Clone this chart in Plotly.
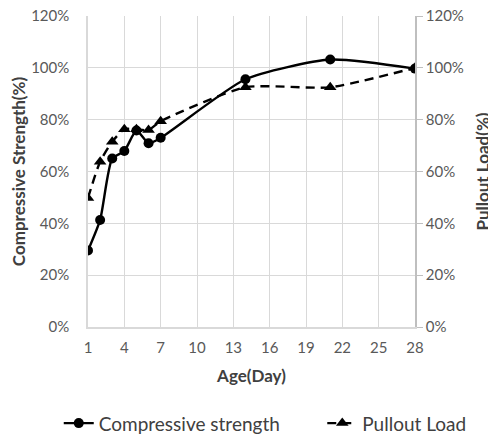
import plotly.graph_objects as go

age_days = [1, 2, 3, 4, 5, 6, 7, 14, 21, 28]
compressive_strength = [29.5, 41.3, 65.0, 67.9, 75.8, 70.9, 73.0, 95.6, 103.2, 99.7]
pullout_load = [49.8, 63.8, 71.5, 76.3, 76.3, 76.0, 79.4, 92.5, 92.5, 100.0]
x_ticks = [1, 4, 7, 10, 13, 16, 19, 22, 25, 28]
y_ticks = [0, 20, 40, 60, 80, 100, 120]
y_tick_labels = [f"{v}%" for v in y_ticks]

fig = go.Figure()
fig.add_trace(go.Scatter(
    x=age_days, y=compressive_strength, name="Compressive strength",
    mode="lines+markers", legend="legend",
    line=dict(color="black", width=2.4, shape="spline", smoothing=0.6),
    marker=dict(symbol="circle", size=10, color="black"),
))
fig.add_trace(go.Scatter(
    x=age_days, y=pullout_load, name="Pullout Load", yaxis="y2",
    mode="lines+markers", legend="legend2",
    line=dict(color="black", width=2.4, dash="9px,6px", shape="spline", smoothing=0.6),
    marker=dict(symbol="triangle-up", size=11, color="black"),
))

FONT = "Lato, Carlito, sans-serif"
tick_font = dict(family=FONT, size=15, color="#595959")
title_font = dict(family=FONT, size=17, color="#404040")
legend_font = dict(family=FONT, size=19, color="#404040")

fig.update_layout(
    width=488, height=429,
    margin=dict(l=80, r=81, t=8, b=110),
    plot_bgcolor="white", paper_bgcolor="white",
    showlegend=True,
    legend=dict(orientation="h", xref="container", x=0.104, xanchor="left",
                yref="container", y=0.032, yanchor="middle", font=legend_font),
    legend2=dict(orientation="h", xref="container", x=0.644, xanchor="left",
                 yref="container", y=0.032, yanchor="middle", font=legend_font),
    xaxis=dict(range=[1, 28], tickvals=x_ticks, ticktext=[str(v) for v in x_ticks],
               showgrid=True, gridcolor="#d9d9d9", gridwidth=1.3,
               showline=True, linecolor="#d9d9d9", linewidth=1.5,
               zeroline=False, tickfont=tick_font, ticklabeloverflow="allow",
               ticks="outside", ticklen=6, tickcolor="rgba(0,0,0,0)",
               automargin=False,
               title=dict(text="<b>Age(Day)</b>", font=title_font, standoff=15)),
    yaxis=dict(range=[0, 120], tickvals=y_ticks, ticktext=y_tick_labels,
               showgrid=True, gridcolor="#d9d9d9", gridwidth=1.3,
               showline=True, linecolor="#d9d9d9", linewidth=1.5,
               zeroline=False, tickfont=tick_font, ticklabeloverflow="allow",
               ticks="outside", ticklen=14, tickcolor="rgba(0,0,0,0)",
               automargin=False,
               title=dict(text="<b>Compressive Strength(%)</b>", font=title_font, standoff=10)),
    yaxis2=dict(range=[0, 120], tickvals=y_ticks, ticktext=y_tick_labels,
                overlaying="y", side="right", showgrid=False,
                showline=True, linecolor="#bfbfbf", linewidth=1.5,
                ticks="outside", ticklen=6, tickcolor="#bfbfbf",
                zeroline=False, tickfont=tick_font, ticklabeloverflow="allow",
                automargin=False,
                title=dict(text="<b>Pullout Load(%)</b>", font=title_font, standoff=14)),
)

fig.write_html("out.html")
